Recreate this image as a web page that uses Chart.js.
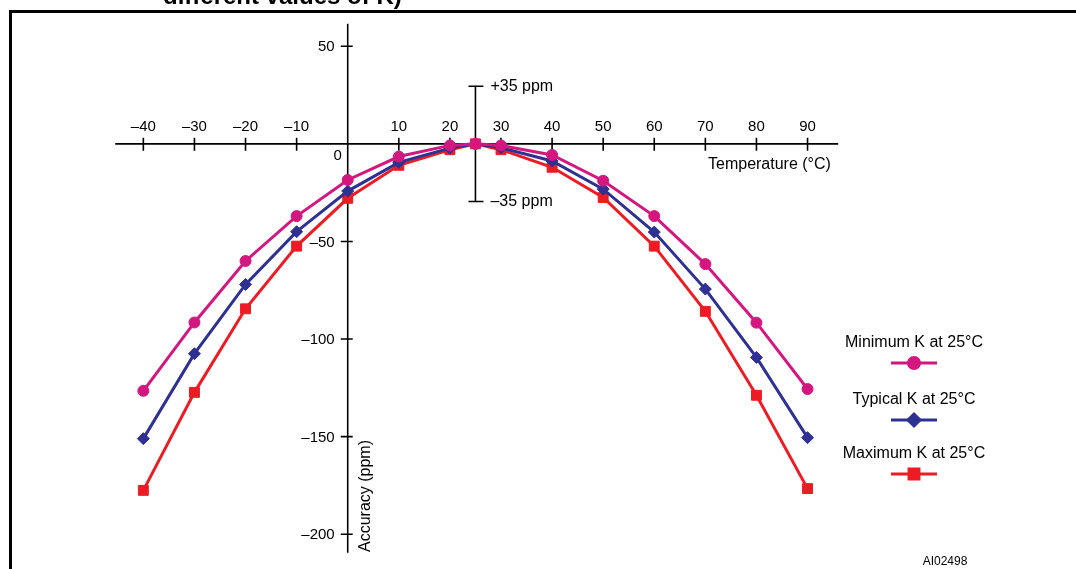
<!DOCTYPE html>
<html>
<head>
<meta charset="utf-8">
<style>
  html, body { margin: 0; padding: 0; background: #fff; }
  canvas { display: block; }
</style>
<script src="https://cdn.jsdelivr.net/npm/chart.js@4/dist/chart.umd.min.js"></script>
</head>
<body>
<canvas id="accChart" width="1076" height="569"></canvas>
<script>
// temperature (°C) and accuracy (ppm)
const temps = [-40, -30, -20, -10, 0, 10, 20, 25, 30, 40, 50, 60, 70, 80, 90];
const minK = [-126.5, -91.5, -60, -37, -18.5, -6.5, -0.8, 0, -0.8, -5.7, -18.9, -37, -61.6, -91.6, -125.6];
const typK = [-151, -107.5, -72, -45, -24.2, -9.5, -2.2, 0, -2, -8.8, -23.2, -45.2, -74.4, -109.4, -150.5];
const maxK = [-177.5, -127.3, -84.5, -52.4, -27.9, -11, -3, 0, -3, -12, -27.5, -52.4, -85.8, -128.8, -176.6];

const xTicks = [-40, -30, -20, -10, 0, 10, 20, 30, 40, 50, 60, 70, 80, 90];
const yTicks = [50, -50, -100, -150, -200];
const xAxisExtent = [-45.5, 96];
const yAxisExtent = [61.5, -209.5];
const bracketAt = 25;
const bracketSpan = 29.5;
const seriesLabels = ['Minimum K at 25\u00B0C', 'Typical K at 25\u00B0C', 'Maximum K at 25\u00B0C'];

const FONT = '"Liberation Sans", Arial, Helvetica, sans-serif';
const dash = v => (v < 0 ? '\u2013' + Math.abs(v) : String(v));
const toPoints = vals => temps.map((t, i) => ({ x: t, y: vals[i] }));

const axesPlugin = {
    id: 'crossAxes',
    beforeDatasetsDraw(chart) {
        const ctx = chart.ctx;
        const xs = chart.scales.x, ys = chart.scales.y;
        const x0 = xs.getPixelForValue(0), y0 = ys.getPixelForValue(0);

        ctx.save();
        // frame of the figure
        ctx.strokeStyle = '#000';
        ctx.lineWidth = 3;
        ctx.beginPath();
        ctx.moveTo(10.5, 569);
        ctx.lineTo(10.5, 11.5);
        ctx.lineTo(1076, 11.5);
        ctx.stroke();

        // cut-off caption above the frame
        ctx.fillStyle = '#000';
        ctx.font = 'bold 24px ' + FONT;
        ctx.textAlign = 'left';
        ctx.textBaseline = 'alphabetic';
        ctx.fillText('different values of K)', 163, 4);

        ctx.lineWidth = 1.6;
        ctx.beginPath();
        ctx.moveTo(xs.getPixelForValue(xAxisExtent[0]), y0);
        ctx.lineTo(xs.getPixelForValue(xAxisExtent[1]), y0);
        ctx.moveTo(x0, ys.getPixelForValue(yAxisExtent[0]));
        ctx.lineTo(x0, ys.getPixelForValue(yAxisExtent[1]));
        xTicks.forEach(t => {
            const px = xs.getPixelForValue(t);
            ctx.moveTo(px, y0 - 6);
            ctx.lineTo(px, y0 + 7);
        });
        yTicks.forEach(v => {
            const py = ys.getPixelForValue(v);
            ctx.moveTo(x0 - 7, py);
            ctx.lineTo(x0 + 5, py);
        });
        // ±35 ppm bracket
        const bx = xs.getPixelForValue(bracketAt);
        const bt = ys.getPixelForValue(bracketSpan), bb = ys.getPixelForValue(-bracketSpan);
        ctx.moveTo(bx, bt);
        ctx.lineTo(bx, bb);
        ctx.moveTo(bx - 7, bt);
        ctx.lineTo(bx + 8, bt);
        ctx.moveTo(bx - 7, bb);
        ctx.lineTo(bx + 8, bb);
        ctx.stroke();

        ctx.font = '15px ' + FONT;
        ctx.textAlign = 'center';
        ctx.textBaseline = 'alphabetic';
        xTicks.forEach(t => {
            if (t === 0) return;
            ctx.fillText(dash(t), xs.getPixelForValue(t), y0 - 13);
        });
        ctx.textBaseline = 'middle';
        ctx.fillText('0', x0 - 10, y0 + 12);
        ctx.textAlign = 'right';
        yTicks.forEach(v => ctx.fillText(dash(v), x0 - 13, ys.getPixelForValue(v) + 1));

        ctx.font = '16px ' + FONT;
        ctx.textAlign = 'left';
        ctx.fillText('+35 ppm', bx + 15, bt);
        ctx.fillText('\u201335 ppm', bx + 15, bb);
        ctx.fillText('Temperature (\u00B0C)', 708, y0 + 21);

        ctx.save();
        ctx.translate(x0 + 18, 496);
        ctx.rotate(-Math.PI / 2);
        ctx.textAlign = 'center';
        ctx.fillText('Accuracy (ppm)', 0, 0);
        ctx.restore();

        ctx.font = '12px ' + FONT;
        ctx.textAlign = 'center';
        ctx.fillText('AI02498', 945, 562);
        ctx.restore();
    },
    afterDatasetsDraw(chart) {
        const ctx = chart.ctx;
        const rows = [343, 400, 454];
        ctx.save();
        chart.data.datasets.forEach((ds, i) => {
            const ty = rows[i];
            ctx.fillStyle = '#000';
            ctx.font = '16px ' + FONT;
            ctx.textAlign = 'center';
            ctx.textBaseline = 'middle';
            ctx.fillText(ds.label, 914, ty);
            const ly = ty + 20;
            ctx.strokeStyle = ds.borderColor;
            ctx.lineWidth = 3;
            ctx.beginPath();
            ctx.moveTo(891, ly);
            ctx.lineTo(937, ly);
            ctx.stroke();
            Chart.helpers.drawPoint(ctx, {
                pointStyle: ds.pointStyle,
                radius: ds.pointRadius,
                borderWidth: 1
            }, 914, ly);
            ctx.fillStyle = ds.borderColor;
            ctx.fill();
        });
        ctx.restore();
    }
};

function makeSet(label, vals, color, style, radius) {
    return {
        label: label,
        data: toPoints(vals),
        borderColor: color,
        backgroundColor: color,
        pointBackgroundColor: color,
        pointBorderColor: color,
        borderWidth: 3,
        pointStyle: style,
        pointRadius: radius,
        pointBorderWidth: 1,
        tension: 0,
        fill: false
    };
}

new Chart(document.getElementById('accChart'), {
    type: 'line',
    data: {
        datasets: [
            makeSet(seriesLabels[0], minK, '#D4177F', 'circle', 5.5),
            makeSet(seriesLabels[1], typK, '#2E3192', 'rectRot', 6),
            makeSet(seriesLabels[2], maxK, '#ED1C24', 'rect', 7)
        ]
    },
    options: {
        responsive: false,
        devicePixelRatio: 1,
        animation: false,
        events: [],
        layout: { padding: { left: 10, right: 13, top: 15, bottom: 15 } },
        plugins: { legend: { display: false }, tooltip: { enabled: false } },
        scales: {
            x: { type: 'linear', min: -66.1, max: 140, display: false },
            y: { type: 'linear', min: -210.1, max: 66, display: false }
        }
    },
    plugins: [axesPlugin]
});
</script>
</body>
</html>
